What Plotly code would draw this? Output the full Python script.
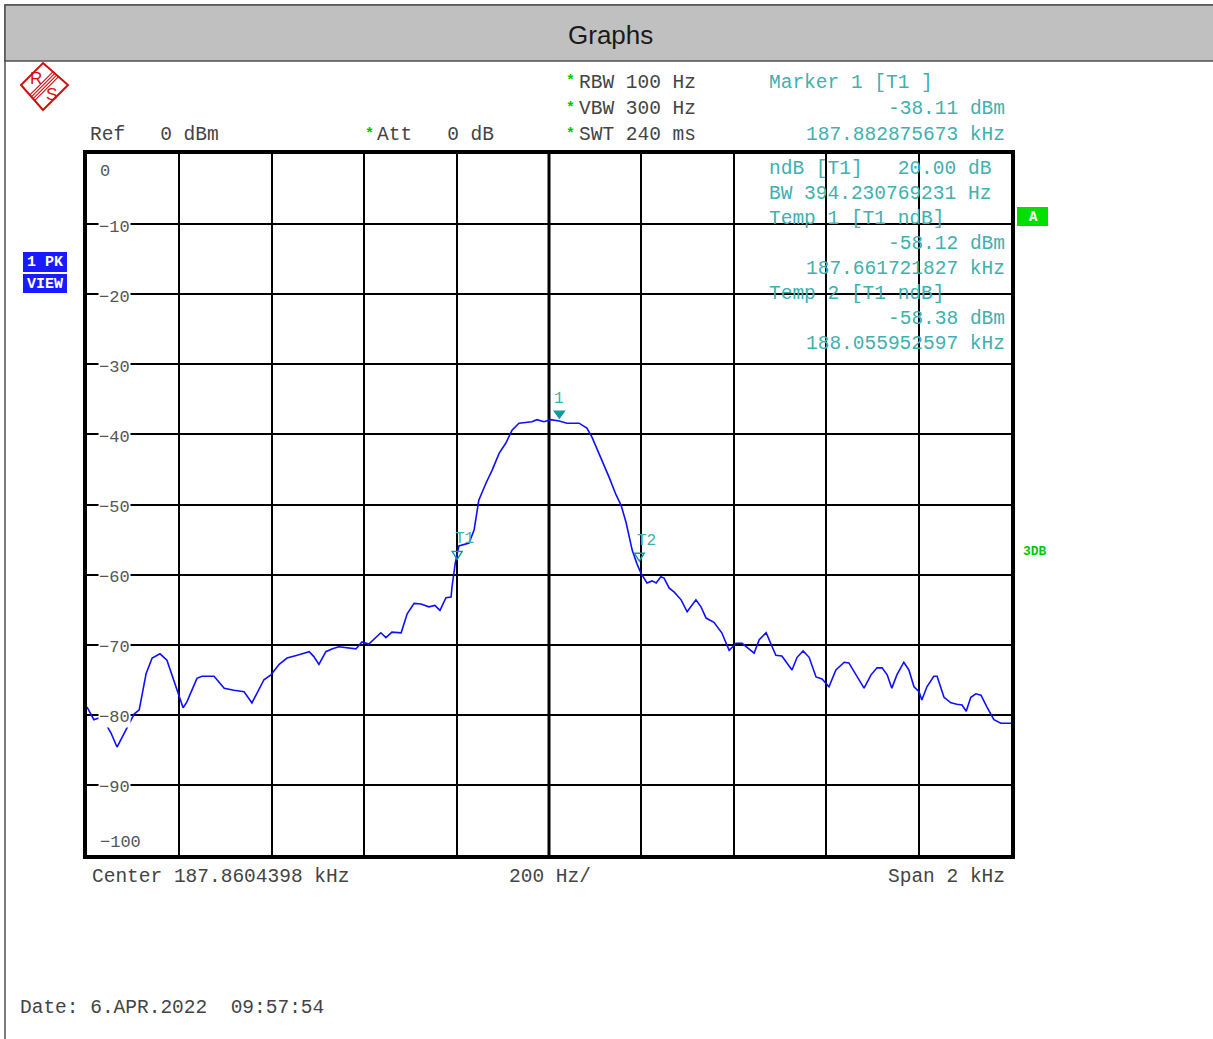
import plotly.graph_objects as go

# ---------------- data ----------------
center_khz = 187.8604398
span_khz = 2.0

offset_hz = [-1000, -985, -968, -948, -935, -916, -898, -887, -872, -859, -842, -827, -807, -792,
             -784, -762, -751, -725, -703, -682, -660, -643, -617, -602, -584, -567, -545, -519,
             -509, -498, -483, -470, -455, -418, -405, -390, -364, -353, -340, -320, -307, -292,
             -277, -260, -247, -236, -223, -212, -210, -203, -195, -173, -162, -152, -136, -123,
             -108, -93, -80, -65, -37, -26, -11, 4, 22, 39, 65, 82, 93, 113, 130, 145, 156, 167,
             180, 190, 199, 212, 223, 232, 242, 249, 260, 271, 286, 299, 318, 329, 340, 357, 374,
             390, 405, 418, 444, 455, 470, 483, 491, 504, 526, 537, 550, 563, 578, 591, 606, 621,
             639, 649, 665, 682, 697, 710, 721, 732, 742, 753, 768, 779, 790, 801, 807, 818, 833,
             840, 855, 870, 883, 894, 903, 913, 924, 935, 948, 963, 978, 1000]
level_dbm = [-78.9, -80.7, -80.3, -82.6, -84.6, -82.2, -79.9, -79.3, -74.1, -71.9, -71.3, -72.2, -76.0, -79.0,
             -78.2, -74.8, -74.5, -74.5, -76.2, -76.5, -76.7, -78.3, -75.0, -74.3, -72.8, -71.9, -71.5, -71.0,
             -71.7, -72.8, -71.0, -70.6, -70.3, -70.6, -69.6, -69.9, -68.3, -69.0, -68.2, -68.3, -65.6, -64.1,
             -64.2, -64.6, -64.4, -65.1, -63.3, -63.2, -61.8, -58.4, -55.9, -55.5, -53.6, -49.4, -46.9, -45.1,
             -42.7, -41.2, -39.4, -38.4, -38.2, -37.9, -38.2, -37.9, -38.1, -38.4, -38.4, -39.1, -40.4, -43.4, -46.1, -48.6, -50.1, -52.6,
             -56.5, -58.4, -59.8, -61.2, -60.9, -61.2, -60.3, -60.5, -61.9, -62.5, -63.6, -65.3, -63.6, -64.6, -66.2, -66.8, -68.3,
             -70.8, -69.8, -69.8, -71.2, -69.3, -68.3, -70.3, -71.5, -71.6, -73.6, -71.8, -70.9, -71.8, -74.6, -74.9, -76.0, -73.6,
             -72.5, -72.6, -74.3, -76.2, -74.3, -73.3, -73.3, -74.3, -76.2, -74.3, -72.5, -73.6, -76.0, -76.7, -77.9, -76.0, -74.5,
             -74.5, -77.5, -78.3, -78.5, -78.6, -79.5, -77.5, -77.0, -77.2, -78.9, -80.7, -81.2, -81.2]

marker_names = ["1", "T1", "T2"]
marker_khz = [187.882875673, 187.661721827, 188.055952597]
marker_dbm = [-38.11, -58.12, -58.38]

y_ticks = [0, -10, -20, -30, -40, -50, -60, -70, -80, -90, -100]

freq_khz = [center_khz + h / 1000.0 for h in offset_hz]

# ---------------- layout helpers (pixel -> paper) ----------------
W, H = 1213, 1039
L, R, T, B = 87, 1011, 154, 855


def px(x):
    return (x - L) / (R - L)


def py(y):
    return (B - y) / (B - T)


MONO = "Liberation Mono, Courier New, monospace"
GRAY = "#444444"
TEAL = "#40b0b0"
MTEAL = "#109a9a"
GREEN = "#00c800"
FS = 19.5


def txt(x, y, s, color=GRAY, size=FS, anchor="left", bold=False, family=MONO, bg=None):
    d = dict(x=px(x), y=py(y), xref="paper", yref="paper", text=s.replace(" ", "\u00a0"),
             showarrow=False, xanchor=anchor, yanchor="middle",
             font=dict(family=family, size=size, color=color,
                       weight="bold" if bold else "normal"))
    if bg:
        d["bgcolor"] = bg
        d["borderpad"] = 0
    return d


def path(points):
    return "M " + " L ".join(f"{px(a)},{py(b)}" for a, b in points) + " Z"


fig = go.Figure()
fig.add_trace(go.Scatter(x=freq_khz, y=level_dbm, mode="lines",
                         line=dict(color="#0f0fff", width=1.6), hoverinfo="skip"))

shapes = []
# outer border and title bar
shapes.append(dict(type="rect", xref="paper", yref="paper", x0=px(5), x1=px(1220), y0=py(5), y1=py(1045),
                   line=dict(color="#505050", width=1.5), fillcolor="rgba(0,0,0,0)", layer="below"))
shapes.append(dict(type="rect", xref="paper", yref="paper", x0=px(5), x1=px(1220), y0=py(5), y1=py(61),
                   line=dict(color="#505050", width=1.5), fillcolor="#c0c0c0", layer="below"))
# center vertical line (thicker)
shapes.append(dict(type="line", xref="x", yref="paper", x0=center_khz, x1=center_khz, y0=0, y1=1,
                   line=dict(color="black", width=3), layer="below"))

# R&S logo
RED = "#d01010"
shapes.append(dict(type="path", xref="paper", yref="paper",
                   path=path([(43, 63), (68, 85), (43, 110), (21, 85)]),
                   line=dict(color=RED, width=2), fillcolor="white", layer="above"))
for d in (-2.6, -0.9, 0.9, 2.6):
    shapes.append(dict(type="line", xref="paper", yref="paper",
                       x0=px(56 + d), y0=py(74 + d), x1=px(32 + d), y1=py(98 + d),
                       line=dict(color=RED, width=1.1), layer="above"))
# left blue boxes
shapes.append(dict(type="rect", xref="paper", yref="paper", x0=px(23), x1=px(67), y0=py(252), y1=py(272),
                   line=dict(width=0), fillcolor="#1a1aff", layer="above"))
shapes.append(dict(type="rect", xref="paper", yref="paper", x0=px(23), x1=px(67), y0=py(274), y1=py(293),
                   line=dict(width=0), fillcolor="#1a1aff", layer="above"))
# green "A" box
shapes.append(dict(type="rect", xref="paper", yref="paper", x0=px(1017), x1=px(1048), y0=py(207), y1=py(226),
                   line=dict(width=0), fillcolor="#00e000", layer="above"))

# marker triangles, anchored at marker data point, sized in pixels
for name, fk, lv in zip(marker_names, marker_khz, marker_dbm):
    filled = name == "1"
    shapes.append(dict(type="path", xref="x", yref="y", xsizemode="pixel", ysizemode="pixel",
                       xanchor=fk, yanchor=lv,
                       path="M 0,3 L -5,10 L 5,10 Z" if filled else "M 0,2 L -5,10 L 5,10 Z",
                       line=dict(color=MTEAL, width=1.4),
                       fillcolor=MTEAL if filled else "rgba(0,0,0,0)", layer="above"))

ann = []
ann.append(dict(x=px(610), y=py(35), xref="paper", yref="paper", text="Graphs", showarrow=False,
                xanchor="center", yanchor="middle",
                font=dict(family="Liberation Sans, Arial", size=26, color="#1a1a1a")))
ann.append(txt(36, 79, "R", RED, 17, "center", family="Liberation Sans, Arial"))
ann.append(txt(51, 95, "S", RED, 17, "center", family="Liberation Sans, Arial"))
ann.append(txt(45, 262, "1 PK", "white", 15, "center", bold=True, family="Liberation Mono"))
ann.append(txt(45, 284, "VIEW", "white", 15, "center", bold=True, family="Liberation Mono"))
ann.append(txt(1033, 217, "A", "white", 14, "center", bold=True))
ann.append(txt(1035, 551, "3DB", GREEN, 13, "center", bold=True))

# header texts
ann.append(txt(88, 135, "Ref   0 dBm"))
ann.append(txt(369, 134, "*", GREEN, 15, "center", bold=True))
ann.append(txt(375, 135, "Att   0 dB"))
for yy, s in ((83, "RBW 100 Hz"), (109, "VBW 300 Hz"), (135, "SWT 240 ms")):
    ann.append(txt(570, yy - 1, "*", GREEN, 15, "center", bold=True))
    ann.append(txt(577, yy, s))
ann.append(txt(767, 83, "Marker 1 [T1 ]", TEAL))
ann.append(txt(1007, 109, "-38.11 dBm", TEAL, anchor="right"))
ann.append(txt(1007, 135, "187.882875673 kHz", TEAL, anchor="right"))
ann.append(txt(767, 169, "ndB [T1]   20.00 dB", TEAL))
ann.append(txt(767, 194, "BW 394.230769231 Hz", TEAL))
ann.append(txt(767, 219, "Temp 1 [T1 ndB]", TEAL))
ann.append(txt(1007, 244, "-58.12 dBm", TEAL, anchor="right"))
ann.append(txt(1007, 269, "187.661721827 kHz", TEAL, anchor="right"))
ann.append(txt(767, 294, "Temp 2 [T1 ndB]", TEAL))
ann.append(txt(1007, 319, "-58.38 dBm", TEAL, anchor="right"))
ann.append(txt(1007, 344, "188.055952597 kHz", TEAL, anchor="right"))

# footer texts
ann.append(txt(90, 877, "Center 187.8604398 kHz"))
ann.append(txt(507, 877, "200 Hz/"))
ann.append(txt(1007, 877, "Span 2 kHz", anchor="right"))
ann.append(txt(18, 1008, "Date: 6.APR.2022  09:57:54"))

# y labels inside the grid
for v in y_ticks:
    if v == 0:
        yy, bg = 171, None
    elif v == -100:
        yy, bg = 842, None
    else:
        yy, bg = T + (-v) / 100.0 * (B - T) + 3, "white"
    ann.append(txt(98, yy, str(v).replace("-", "\u2212"), "#555555", 17, bg=bg))

# marker labels
for name, fk, lv in zip(marker_names, marker_khz, marker_dbm):
    ann.append(dict(x=fk, y=lv, xref="x", yref="y", text=name, showarrow=False,
                    xanchor="center", yanchor="bottom", yshift=11, xshift=0 if name == "1" else 7,
                    font=dict(family=MONO, size=16, color=TEAL)))

fig.update_layout(
    width=W, height=H,
    margin=dict(l=L, r=W - R, t=T, b=H - B, pad=0),
    paper_bgcolor="white", plot_bgcolor="white",
    showlegend=False,
    shapes=shapes, annotations=ann,
    xaxis=dict(range=[center_khz - span_khz / 2, center_khz + span_khz / 2],
               tick0=center_khz, dtick=span_khz / 10, showgrid=True, gridcolor="black", gridwidth=1.6,
               zeroline=False, showticklabels=False, ticks="", showline=True, linecolor="black",
               linewidth=3.5, mirror=True, fixedrange=True),
    yaxis=dict(range=[-100, 0], dtick=10, showgrid=True, gridcolor="black", gridwidth=1.6,
               zeroline=False, showticklabels=False, ticks="", showline=True, linecolor="black",
               linewidth=3.5, mirror=True, fixedrange=True),
)

fig.write_html("out.html", config={"displayModeBar": False},
               post_script="document.body.style.margin='0';document.body.style.overflow='hidden';")
